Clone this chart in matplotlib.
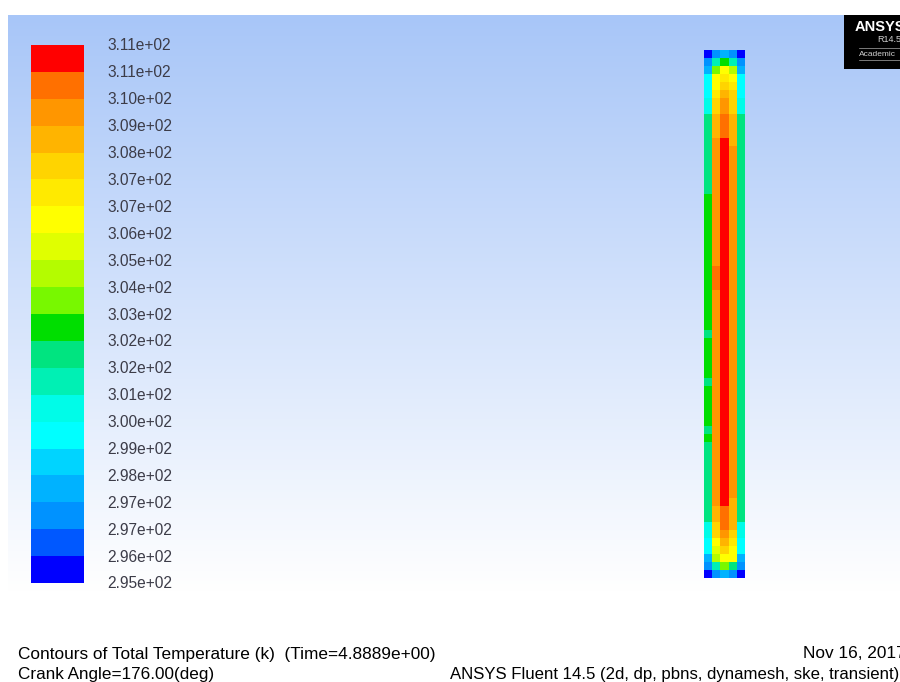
import numpy as np
import matplotlib
matplotlib.use('Agg')
import matplotlib.pyplot as plt
from matplotlib.colors import ListedColormap

plt.rcParams['font.family'] = ['Liberation Sans', 'DejaVu Sans']

# colormap levels, bottom of the colorbar first
level_colors = ['#0000ff', '#0058ff', '#0092ff', '#00b2ff', '#00d4ff',
                '#00ffff', '#00fce8', '#00f0b4', '#00e480', '#00de00',
                '#78f800', '#b4fc00', '#e0ff00', '#ffff00', '#ffea00',
                '#ffd400', '#ffb400', '#ff9600', '#ff7000', '#ff0000']
tick_labels = ['2.95e+02', '2.96e+02', '2.97e+02', '2.97e+02', '2.98e+02',
               '2.99e+02', '3.00e+02', '3.01e+02', '3.02e+02', '3.02e+02',
               '3.03e+02', '3.04e+02', '3.05e+02', '3.06e+02', '3.07e+02',
               '3.07e+02', '3.08e+02', '3.09e+02', '3.10e+02', '3.11e+02',
               '3.11e+02']

# contour cells per column, top row first, as (level, number of rows)
col_1 = [(0, 1), (2, 1), (3, 1), (5, 3), (6, 2), (8, 10), (9, 17), (8, 1), (9, 5), (8, 1),
         (9, 5), (8, 1), (9, 1), (8, 10), (6, 2), (5, 2), (3, 1), (2, 1), (0, 1)]
col_2 = [(2, 1), (7, 1), (10, 1), (13, 2), (14, 1), (15, 2), (16, 3), (17, 16), (18, 3), (17, 27),
         (16, 2), (15, 2), (13, 1), (12, 1), (11, 1), (7, 1), (2, 1)]
col_3 = [(3, 1), (9, 1), (13, 1), (14, 1), (15, 1), (16, 1), (17, 2), (18, 3), (19, 46), (18, 3),
         (17, 1), (16, 1), (15, 1), (13, 1), (10, 1), (3, 1)]
col_4 = [(2, 1), (7, 1), (11, 1), (13, 1), (14, 1), (15, 3), (16, 4), (17, 44), (16, 4),
         (15, 1), (14, 1), (13, 2), (8, 1), (2, 1)]
col_5 = [(0, 1), (2, 1), (3, 1), (5, 3), (6, 2), (8, 51), (6, 2), (5, 2), (3, 1), (2, 1), (0, 1)]
columns = [col_1, col_2, col_3, col_4, col_5]

W, H = 900, 682
cmap = ListedColormap(level_colors)


def px_axes(fig, x0, y0, x1, y1):
    # axes placed by pixel box, y measured from the top
    ax = fig.add_axes([x0 / W, 1 - y1 / H, (x1 - x0) / W, (y1 - y0) / H])
    ax.axis('off')
    return ax


fig = plt.figure(figsize=(W / 100, H / 100), dpi=100, facecolor='white')

# background shading
bg = px_axes(fig, 8, 15, 900, 592)
shade = np.linspace(0, 1, 256).reshape(-1, 1, 1)
top = np.array([168, 198, 248]) / 255
bg.imshow(top + (1 - top) * shade, aspect='auto', interpolation='bilinear')

# colorbar
cb = px_axes(fig, 31, 45, 84, 583)
cb.pcolormesh(np.arange(len(level_colors)).reshape(-1, 1), cmap=cmap, vmin=-0.5, vmax=19.5)

for i, lab in enumerate(tick_labels):
    y = 584 - i * (584 - 46) / (len(tick_labels) - 1)
    fig.text(107 / W, 1 - y / H, lab, fontsize=11.2, color='#3c3c48', ha='left', va='center')

# contour field
field = np.array([[lev for lev, n in col for _ in range(n)] for col in columns]).T
ax = px_axes(fig, 704, 50, 745, 578)
ax.pcolormesh(field, cmap=cmap, vmin=-0.5, vmax=19.5)
ax.invert_yaxis()

# logo
logo = px_axes(fig, 844, 15, 900, 69)
logo.axis('on')
logo.set_facecolor('black')
logo.set_xticks([])
logo.set_yticks([])
for s in logo.spines.values():
    s.set_visible(False)
fig.text(855 / W, 1 - 27 / H, 'ANSYS', fontsize=10.5, fontweight='bold', color='white', ha='left', va='center')
fig.text(877 / W, 1 - 40 / H, 'R14.5', fontsize=6.5, color='#d0d0d0', ha='left', va='center')
fig.text(859 / W, 1 - 55 / H, 'Academic', fontsize=6, color='#d0d0d0', ha='left', va='center')
logo.plot([0.27, 1], [0.39, 0.39], color='#aaaaaa', lw=0.5, transform=logo.transAxes)
logo.plot([0.27, 1], [0.17, 0.17], color='#aaaaaa', lw=0.5, transform=logo.transAxes)

# footer
foot = dict(color='black', ha='left', va='center')
fig.text(18 / W, 1 - 654 / H, 'Contours of Total Temperature (k)  (Time=4.8889e+00)', fontsize=12.4, **foot)
fig.text(18 / W, 1 - 674 / H, 'Crank Angle=176.00(deg)', fontsize=12.3, **foot)
fig.text(803 / W, 1 - 654 / H, 'Nov 16, 2017', fontsize=12.4, **foot)
fig.text(450 / W, 1 - 674 / H, 'ANSYS Fluent 14.5 (2d, dp, pbns, dynamesh, ske, transient)', fontsize=12.1, **foot)

fig.savefig('out.png', dpi=100)
